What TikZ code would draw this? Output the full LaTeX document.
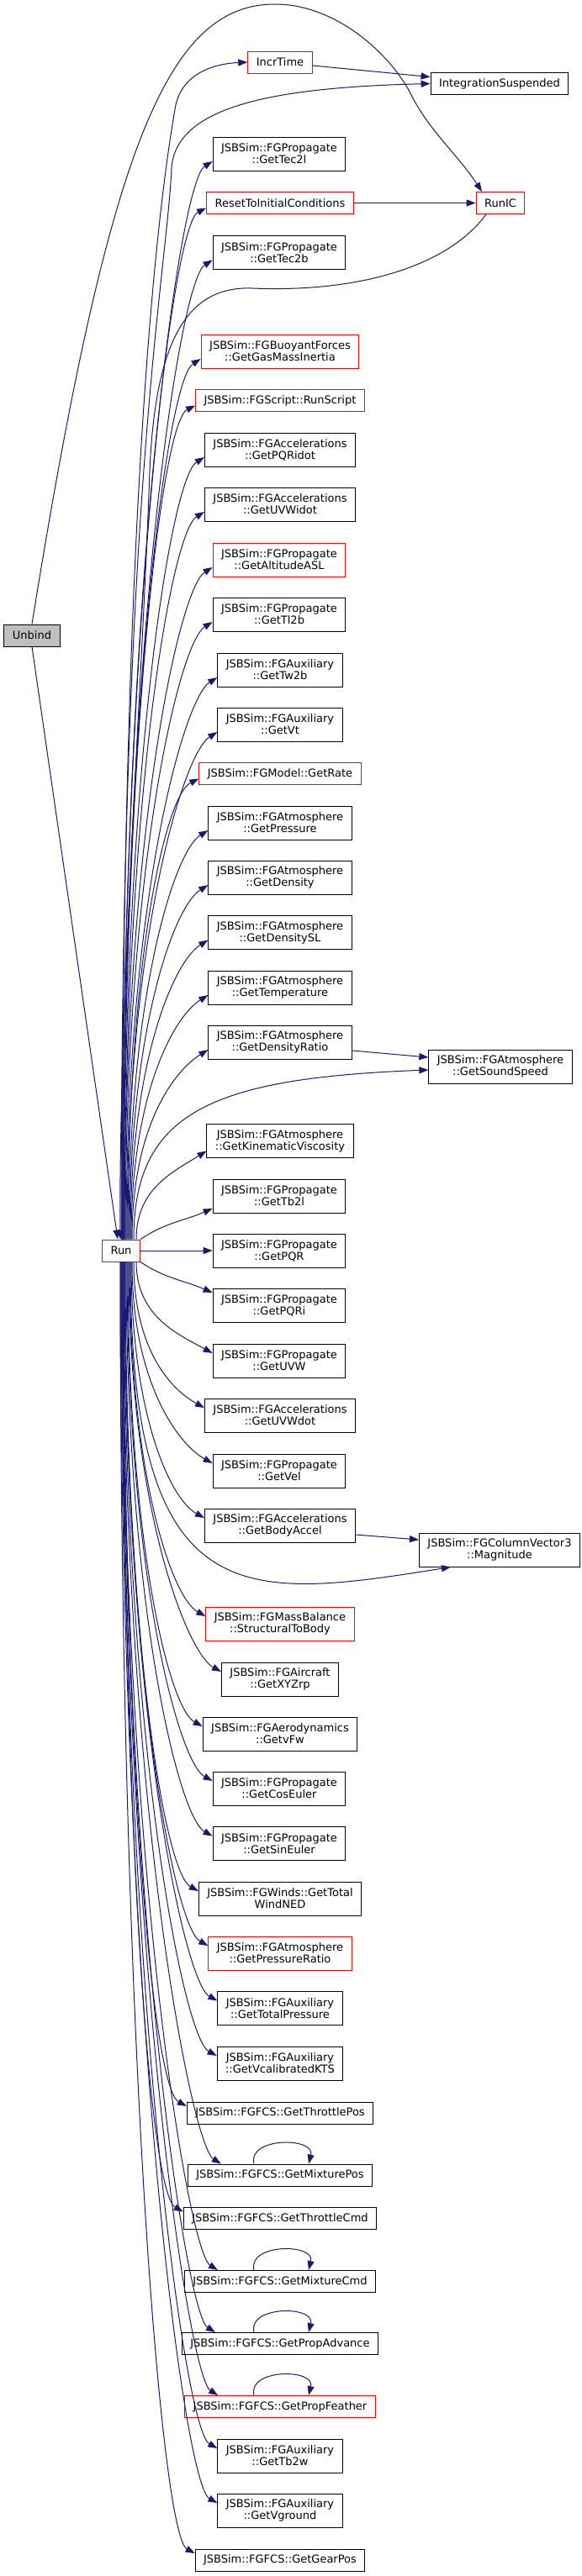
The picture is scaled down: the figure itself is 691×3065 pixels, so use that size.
\documentclass[tikz,border=0pt]{standalone}
\usepackage{fontspec}
\setmainfont{DejaVu Sans}
\usetikzlibrary{arrows.meta}

\definecolor{edgeblue}{RGB}{25,25,112}
\definecolor{rootgray}{RGB}{191,191,191}

\tikzset{
	fnbox/.style={draw=black, line width=1pt, fill=white, align=center,
		inner xsep=10pt, inner ysep=2pt, minimum height=26pt,
		font=\fontsize{13}{14}\selectfont},
	fnbox2/.style={fnbox, minimum height=40pt},
	fnmiss/.style={draw=red},
	call/.style={edgeblue, line width=1pt, -{Triangle[length=11pt,width=8pt]}},
}

\begin{document}
\begin{tikzpicture}[x=1pt,y=-1pt]
	
	% Zeichenfläche
	\useasboundingbox (0,0) rectangle (691,3065);
	\fill[white] (0,0) rectangle (691,3065);
	
	% Startknoten links
	\node[fnbox, fill=rootgray] (unbind) at (38,756) {Unbind};
	\node[fnbox, fnmiss] (run) at (144,1488) {Run};
	
	% Rechte Spalte
	\node[fnbox] (intsusp) at (594,99.5) {IntegrationSuspended};
	\node[fnbox, fnmiss] (runic) at (595,241.5) {RunIC};
	\node[fnbox2] (soundspeed) at (595,1269) {JSBSim::FGAtmosphere\\::GetSoundSpeed};
	\node[fnbox2] (magnitude) at (594,1844) {JSBSim::FGColumnVector3\\::Magnitude};
	
	% Mittlere Spalte (von oben nach unten)
	\node[fnbox, fnmiss] (incr) at (333,74) {IncrTime};
	\node[fnbox2] (tec2l) at (332,183) {JSBSim::FGPropagate\\::GetTec2l};
	\node[fnbox, fnmiss] (reset) at (333,241.5) {ResetToInitialConditions};
	\node[fnbox2] (tec2b) at (332,300.5) {JSBSim::FGPropagate\\::GetTec2b};
	\node[fnbox2, fnmiss] (gasmass) at (333,418) {JSBSim::FGBuoyantForces\\::GetGasMassInertia};
	\node[fnbox, fnmiss] (runscript) at (333,476.5) {JSBSim::FGScript::RunScript};
	\node[fnbox2] (pqridot) at (333,535) {JSBSim::FGAccelerations\\::GetPQRidot};
	\node[fnbox2] (uvwidot) at (333,600) {JSBSim::FGAccelerations\\::GetUVWidot};
	\node[fnbox2, fnmiss] (altasl) at (332,666) {JSBSim::FGPropagate\\::GetAltitudeASL};
	\node[fnbox2] (tl2b) at (332,731) {JSBSim::FGPropagate\\::GetTl2b};
	\node[fnbox2] (tw2b) at (333,797) {JSBSim::FGAuxiliary\\::GetTw2b};
	\node[fnbox2] (vt) at (333,862) {JSBSim::FGAuxiliary\\::GetVt};
	\node[fnbox, fnmiss] (rate) at (333,920.5) {JSBSim::FGModel::GetRate};
	\node[fnbox2] (pressure) at (333,979) {JSBSim::FGAtmosphere\\::GetPressure};
	\node[fnbox2] (density) at (333,1044) {JSBSim::FGAtmosphere\\::GetDensity};
	\node[fnbox2] (densitysl) at (333,1109.5) {JSBSim::FGAtmosphere\\::GetDensitySL};
	\node[fnbox2] (temperature) at (333,1175) {JSBSim::FGAtmosphere\\::GetTemperature};
	\node[fnbox2] (densityratio) at (333,1240) {JSBSim::FGAtmosphere\\::GetDensityRatio};
	\node[fnbox2] (kinvisc) at (333,1357.5) {JSBSim::FGAtmosphere\\::GetKinematicViscosity};
	\node[fnbox2] (tb2l) at (332,1423) {JSBSim::FGPropagate\\::GetTb2l};
	\node[fnbox2] (pqr) at (332,1488) {JSBSim::FGPropagate\\::GetPQR};
	\node[fnbox2] (pqri) at (332,1553) {JSBSim::FGPropagate\\::GetPQRi};
	\node[fnbox2] (uvw) at (332,1619) {JSBSim::FGPropagate\\::GetUVW};
	\node[fnbox2] (uvwdot) at (333,1684) {JSBSim::FGAccelerations\\::GetUVWdot};
	\node[fnbox2] (vel) at (332,1750) {JSBSim::FGPropagate\\::GetVel};
	\node[fnbox2] (bodyaccel) at (333,1815) {JSBSim::FGAccelerations\\::GetBodyAccel};
	\node[fnbox2, fnmiss] (structbody) at (333,1932) {JSBSim::FGMassBalance\\::StructuralToBody};
	\node[fnbox2] (xyzrp) at (333,1998) {JSBSim::FGAircraft\\::GetXYZrp};
	\node[fnbox2] (vfw) at (333,2063) {JSBSim::FGAerodynamics\\::GetvFw};
	\node[fnbox2] (coseuler) at (332,2128) {JSBSim::FGPropagate\\::GetCosEuler};
	\node[fnbox2] (sineuler) at (332,2193.5) {JSBSim::FGPropagate\\::GetSinEuler};
	\node[fnbox2] (windned) at (333,2259) {JSBSim::FGWinds::GetTotal\\WindNED};
	\node[fnbox2, fnmiss] (pressratio) at (333,2324) {JSBSim::FGAtmosphere\\::GetPressureRatio};
	\node[fnbox2] (totpress) at (333,2389.5) {JSBSim::FGAuxiliary\\::GetTotalPressure};
	\node[fnbox2] (vcas) at (333,2455) {JSBSim::FGAuxiliary\\::GetVcalibratedKTS};
	\node[fnbox] (throtpos) at (333,2514) {JSBSim::FGFCS::GetThrottlePos};
	\node[fnbox] (mixpos) at (333,2588) {JSBSim::FGFCS::GetMixturePos};
	\node[fnbox] (throtcmd) at (333,2639.5) {JSBSim::FGFCS::GetThrottleCmd};
	\node[fnbox] (mixcmd) at (333,2714.5) {JSBSim::FGFCS::GetMixtureCmd};
	\node[fnbox] (propadv) at (333,2788.5) {JSBSim::FGFCS::GetPropAdvance};
	\node[fnbox, fnmiss] (propfeather) at (333,2863.5) {JSBSim::FGFCS::GetPropFeather};
	\node[fnbox2] (tb2w) at (333,2922) {JSBSim::FGAuxiliary\\::GetTb2w};
	\node[fnbox2] (vground) at (333,2987) {JSBSim::FGAuxiliary\\::GetVground};
	\node[fnbox] (gearpos) at (333,3046) {JSBSim::FGFCS::GetGearPos};
	
	% Aufrufe von Unbind
	\draw[call] (unbind.south) -- ([xshift=-4pt]run.north);
	\draw[call] (unbind.north) .. controls (130,170) and (200,5) .. (327,5)
		.. controls (400,5) and (465,65) .. (489,113)
		.. controls (510,155) and (545,185) .. ([xshift=-22pt]runic.north);
	
	% Querverbindungen
	\draw[call] ([xshift=-17pt]runic.south) .. controls (530,320) and (420,348) .. (300,343)
		.. controls (225,340) and (185,400) .. (178,560)
		.. controls (170,800) and (141,1200) .. ([xshift=-1pt]run.north);
	\draw[call] (reset.east) -- (runic.west);
	\draw[call] ([yshift=-4pt]incr.east) -- ([yshift=8pt]intsusp.west);
	\draw[call] ([yshift=-10pt]densityratio.east) -- ([yshift=11pt]soundspeed.west);
	\draw[call] ([yshift=-11pt]bodyaccel.east) -- ([yshift=12pt]magnitude.west);
	
	% Aufrufe von Run nach oben
	\draw[call] ([xshift=1pt]run.north) .. controls +(0,-1000) and (200,180) .. (208,130)
		.. controls (214,90) and (250,76) .. (incr.west);
	\draw[call] (run.north) .. controls +(0,-900) and (198,330) .. (204,200)
		.. controls (209,125) and (330,104) .. (intsusp.west);
	\draw[call] ([xshift=1pt]run.north) .. controls +(0,-770) and +(-40,25) .. ([yshift=-9pt]tec2l.west);
	\draw[call] ([xshift=1pt]run.north) .. controls +(0,-737) and +(-40,20) .. ([yshift=-6pt]reset.west);
	\draw[call] ([xshift=2pt]run.north) .. controls +(0,-699) and +(-40,25) .. ([yshift=-9pt]tec2b.west);
	\draw[call] ([xshift=2pt]run.north) .. controls +(0,-629) and +(-40,25) .. ([yshift=-9pt]gasmass.west);
	\draw[call] ([xshift=3pt]run.north) .. controls +(0,-596) and +(-40,20) .. ([yshift=-6pt]runscript.west);
	\draw[call] ([xshift=3pt]run.north) .. controls +(0,-559) and +(-40,25) .. ([yshift=-9pt]pqridot.west);
	\draw[call] ([xshift=4pt]run.north) .. controls +(0,-520) and +(-40,25) .. ([yshift=-9pt]uvwidot.west);
	\draw[call] ([xshift=4pt]run.north) .. controls +(0,-480) and +(-40,25) .. ([yshift=-9pt]altasl.west);
	\draw[call] ([xshift=5pt]run.north) .. controls +(0,-441) and +(-40,25) .. ([yshift=-9pt]tl2b.west);
	\draw[call] ([xshift=6pt]run.north) .. controls +(0,-401) and +(-40,25) .. ([yshift=-9pt]tw2b.west);
	\draw[call] ([xshift=7pt]run.north) .. controls +(0,-362) and +(-40,25) .. ([yshift=-9pt]vt.west);
	\draw[call] ([xshift=8pt]run.north) .. controls +(0,-329) and +(-40,20) .. ([yshift=-6pt]rate.west);
	\draw[call] ([xshift=9pt]run.north) .. controls +(0,-292) and +(-40,25) .. ([yshift=-9pt]pressure.west);
	\draw[call] ([xshift=10pt]run.north) .. controls +(0,-253) and +(-40,25) .. ([yshift=-9pt]density.west);
	\draw[call] ([xshift=11pt]run.north) .. controls +(0,-214) and +(-40,25) .. ([yshift=-9pt]densitysl.west);
	\draw[call] ([xshift=12pt]run.north) .. controls +(0,-175) and +(-40,25) .. ([yshift=-9pt]temperature.west);
	\draw[call] ([xshift=13pt]run.north) .. controls +(0,-135) and +(-40,25) .. ([yshift=-9pt]densityratio.west);
	\draw[call] ([xshift=15pt]run.north) .. controls +(0,-150) and +(-260,10) .. ([yshift=-4pt]soundspeed.west);
	\draw[call] ([xshift=18pt]run.north) .. controls +(0,-60) and +(-40,25) .. ([yshift=-12pt]kinvisc.west);
	\draw[call] (run.north east) .. controls +(30,-20) and +(-35,15) .. ([yshift=-15pt]tb2l.west);
	
	% Aufruf auf gleicher Höhe
	\draw[call] (run) -- (pqr);
	
	% Aufrufe von Run nach unten
	\draw[call] (run.south east) .. controls +(30,20) and +(-35,-15) .. ([yshift=15pt]pqri.west);
	\draw[call] ([xshift=18pt]run.south) .. controls +(0,65) and +(-40,-22) .. ([yshift=9pt]uvw.west);
	\draw[call] ([xshift=15pt]run.south) .. controls +(0,104) and +(-40,-22) .. ([yshift=9pt]uvwdot.west);
	\draw[call] ([xshift=13pt]run.south) .. controls +(0,144) and +(-40,-22) .. ([yshift=9pt]vel.west);
	\draw[call] ([xshift=12pt]run.south) .. controls +(0,183) and +(-40,-22) .. ([yshift=9pt]bodyaccel.west);
	\draw[call] ([xshift=11pt]run.south) .. controls +(0,420) and +(-250,40) .. ([xshift=38pt]magnitude.south west);
	\draw[call] ([xshift=10pt]run.south) .. controls +(0,253) and +(-40,-22) .. ([yshift=9pt]structbody.west);
	\draw[call] ([xshift=9pt]run.south) .. controls +(0,293) and +(-40,-22) .. ([yshift=9pt]xyzrp.west);
	\draw[call] ([xshift=8pt]run.south) .. controls +(0,332) and +(-40,-22) .. ([yshift=9pt]vfw.west);
	\draw[call] ([xshift=7pt]run.south) .. controls +(0,371) and +(-40,-22) .. ([yshift=9pt]coseuler.west);
	\draw[call] ([xshift=6pt]run.south) .. controls +(0,410) and +(-40,-22) .. ([yshift=9pt]sineuler.west);
	\draw[call] ([xshift=5pt]run.south) .. controls +(0,449) and +(-40,-22) .. ([yshift=9pt]windned.west);
	\draw[call] ([xshift=4pt]run.south) .. controls +(0,488) and +(-40,-22) .. ([yshift=9pt]pressratio.west);
	\draw[call] ([xshift=4pt]run.south) .. controls +(0,528) and +(-40,-22) .. ([yshift=9pt]totpress.west);
	\draw[call] ([xshift=3pt]run.south) .. controls +(0,567) and +(-40,-22) .. ([yshift=9pt]vcas.west);
	\draw[call] ([xshift=3pt]run.south) .. controls +(0,604) and +(-40,-22) .. ([yshift=8pt]throtpos.west);
	\draw[call] ([xshift=2pt]run.south) .. controls +(0,644) and +(-35,-22) .. ([xshift=40pt]mixpos.north west);
	\draw[call] ([xshift=2pt]run.south) .. controls +(0,680) and +(-40,-22) .. ([yshift=8pt]throtcmd.west);
	\draw[call] ([xshift=1pt]run.south) .. controls +(0,721) and +(-35,-22) .. ([xshift=40pt]mixcmd.north west);
	\draw[call] ([xshift=1pt]run.south) .. controls +(0,765) and +(-35,-22) .. ([xshift=40pt]propadv.north west);
	\draw[call] (run.south) .. controls +(0,810) and +(-35,-22) .. ([xshift=40pt]propfeather.north west);
	\draw[call] (run.south) .. controls +(0,847) and +(-40,-22) .. ([yshift=9pt]tb2w.west);
	\draw[call] ([xshift=-1pt]run.south) .. controls +(0,886) and +(-40,-22) .. ([yshift=9pt]vground.west);
	\draw[call] ([xshift=-1pt]run.south) .. controls +(0,923) and +(-40,-22) .. ([yshift=8pt]gearpos.west);
	
	% Selbstaufrufe
	\draw[call] ([xshift=-31pt]mixpos.north) .. controls +(-8,-32) and +(8,-32) .. ([xshift=34pt]mixpos.north);
	\draw[call] ([xshift=-31pt]mixcmd.north) .. controls +(-8,-32) and +(8,-32) .. ([xshift=34pt]mixcmd.north);
	\draw[call] ([xshift=-31pt]propadv.north) .. controls +(-8,-32) and +(8,-32) .. ([xshift=34pt]propadv.north);
	\draw[call] ([xshift=-31pt]propfeather.north) .. controls +(-8,-32) and +(8,-32) .. ([xshift=34pt]propfeather.north);
	
\end{tikzpicture}
\end{document}
